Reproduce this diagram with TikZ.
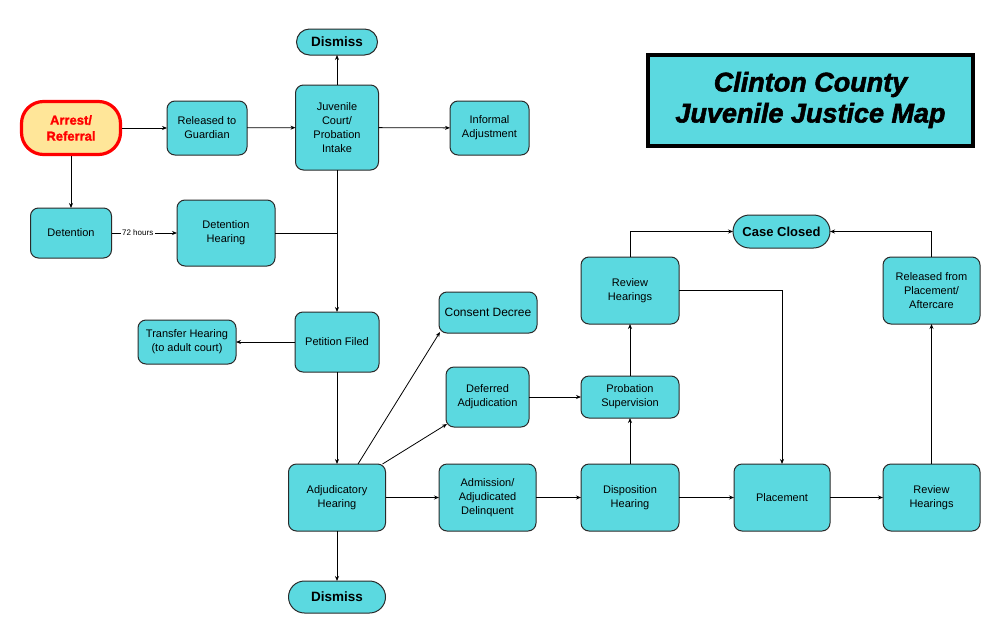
\documentclass[tikz,border=0pt]{standalone}
\usepackage{fontspec}
\setmainfont{Liberation Sans}
\newfontfamily\titlefont[FakeBold=2]{Liberation Sans Bold Italic}
\newfontfamily\heavyfont[FakeBold=1.5]{Liberation Sans Bold}
\usetikzlibrary{arrows.meta}
\definecolor{cy}{HTML}{5BD9E0}
\definecolor{edge}{HTML}{2A2A2A}
\definecolor{yel}{HTML}{FFE699}
\begin{document}
\begin{tikzpicture}[x=1pt,y=-1pt,
  box/.style={draw=edge, fill=cy, rounded corners=8pt, line width=1pt, align=center,
    font=\fontsize{11}{14}\selectfont, inner sep=0pt, outer sep=0pt},
  pill/.style={box, font=\fontsize{13.5}{16}\selectfont\bfseries},
  arr/.style={-{Stealth[length=5pt,width=4pt]}, line width=0.8pt, draw=black},
  ln/.style={line width=0.8pt, draw=black}]
\useasboundingbox (0,0) rectangle (1000,621);
\fill[white] (0,0) rectangle (1000,621);

% title
\node[draw=black, line width=4pt, fill=cy, minimum width=325pt, minimum height=91pt,
  align=center, font=\fontsize{27}{31}\titlefont, inner sep=0pt] (title) at (810.5,100)
  {Clinton County\\Juvenile Justice Map};

% nodes
\node[draw=red, line width=3.2pt, fill=yel, rounded corners=22pt, minimum width=99pt, minimum height=53pt,
  align=center, text=red, font=\fontsize{13}{16}\heavyfont, inner sep=0pt] (arrest) at (71,128) {Arrest/\\Referral};
\node[box, minimum width=80pt, minimum height=54pt] (rel) at (207,128) {Released to\\Guardian};
\node[box, minimum width=83pt, minimum height=85pt] (jc) at (337,127.5) {Juvenile\\Court/\\Probation\\Intake};
\node[box, minimum width=79pt, minimum height=54pt] (inf) at (489.5,128) {Informal\\Adjustment};
\node[pill, rounded corners=13pt, minimum width=81pt, minimum height=26pt] (dis1) at (337,42) {Dismiss};
\node[box, minimum width=81pt, minimum height=50pt] (det) at (71,233) {Detention};
\node[box, minimum width=98pt, minimum height=66pt] (dh) at (226,233) {Detention\\Hearing};
\node[box, minimum width=84pt, minimum height=60pt] (pf) at (337,342) {Petition Filed};
\node[box, minimum width=98pt, minimum height=44pt] (th) at (187,342) {Transfer Hearing\\(to adult court)};
\node[box, font=\fontsize{12}{14}\selectfont, minimum width=98pt, minimum height=41pt] (cd) at (488,312.5) {Consent Decree};
\node[box, minimum width=83pt, minimum height=60pt] (da) at (487.5,397) {Deferred\\Adjudication};
\node[box, minimum width=98pt, minimum height=42pt] (ps) at (630,397) {Probation\\Supervision};
\node[box, minimum width=98pt, minimum height=67pt] (rh1) at (630,290.5) {Review\\Hearings};
\node[pill, font=\fontsize{13}{16}\selectfont\bfseries, rounded corners=16.5pt, minimum width=97pt, minimum height=33pt] (cc) at (781.5,231.5) {Case Closed};
\node[box, minimum width=97pt, minimum height=67pt] (rel2) at (931.5,290.5) {Released from\\Placement/\\Aftercare};
\node[box, minimum width=97pt, minimum height=67pt] (adj) at (337,497.5) {Adjudicatory\\Hearing};
\node[pill, rounded corners=16pt, minimum width=97pt, minimum height=32pt] (dis2) at (337,597) {Dismiss};
\node[box, minimum width=97pt, minimum height=67pt] (adm) at (487.5,497.5) {Admission/\\Adjudicated\\Delinquent};
\node[box, minimum width=98pt, minimum height=67pt] (disp) at (630,497.5) {Disposition\\Hearing};
\node[box, minimum width=96pt, minimum height=67pt] (plc) at (782,497.5) {Placement};
\node[box, minimum width=97pt, minimum height=67pt] (rh2) at (931.5,497.5) {Review\\Hearings};

% connectors
\draw[arr] (arrest) -- (rel);
\draw[arr] (rel) -- (jc);
\draw[arr] (jc) -- (inf);
\draw[arr] (jc) -- (dis1);
\draw[arr] (arrest) -- (det);
\draw[arr] (det) -- node[pos=0.4, fill=white, inner sep=1.5pt, font=\fontsize{8}{9}\selectfont] {72 hours} (dh);
\draw[ln] (dh.east) -- (dh.east -| jc.south);
\draw[arr] (jc) -- (pf);
\draw[arr] (pf) -- (th);
\draw[arr] (pf) -- (adj);
\draw[arr] ([xshift=21pt]adj.north) -- ([xshift=1pt,yshift=1pt]cd.south west);
\draw[arr] ([xshift=-3pt]adj.north east) -- ([xshift=1pt,yshift=3pt]da.south west);
\draw[arr] (adj) -- (adm);
\draw[arr] (adj) -- (dis2);
\draw[arr] (adm) -- (disp);
\draw[arr] (disp) -- (plc);
\draw[arr] (plc) -- (rh2);
\draw[arr] (rh2) -- (rel2);
\draw[arr] (rel2.north) |- (cc.east);
\draw[arr] (rh1.north) |- (cc.west);
\draw[arr] (rh1.east) -| (plc.north);
\draw[arr] (disp) -- (ps);
\draw[arr] (ps) -- (rh1);
\draw[arr] (da) -- (ps);
\end{tikzpicture}
\end{document}
